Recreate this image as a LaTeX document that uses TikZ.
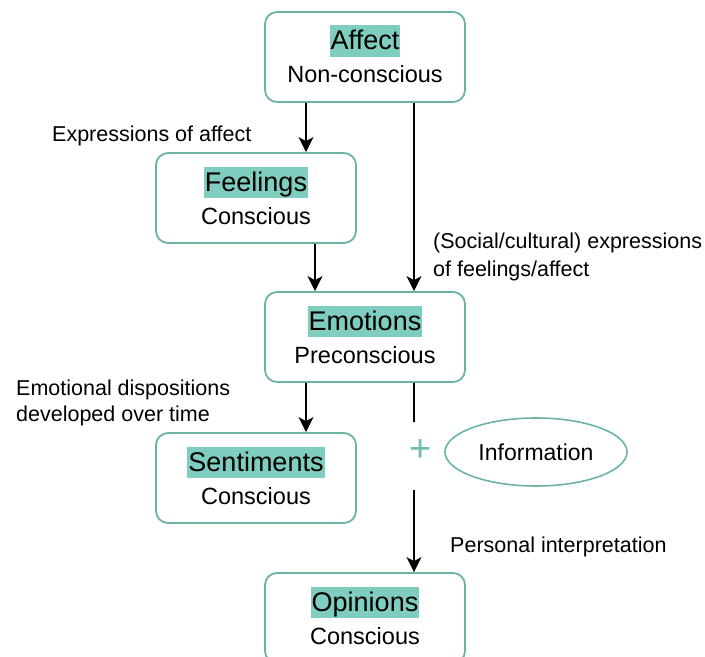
\documentclass[tikz,border=0pt]{standalone}
\usepackage{fontspec}
\setmainfont{Liberation Sans}
\usetikzlibrary{arrows.meta,shapes.geometric}

\definecolor{frame}{HTML}{6DB3A5}
\definecolor{mark}{HTML}{7ECDBE}
\definecolor{plus}{HTML}{6CBFAF}

\tikzset{
  stage/.style={draw=frame, line width=1.8bp, rounded corners=12bp, fill=white,
    minimum width=200bp, minimum height=90bp, inner sep=0pt},
  title/.style={fill=mark, anchor=base, inner xsep=1.2bp, inner ysep=0pt,
    text height=24.5bp, text depth=7bp,
    font=\fontsize{27bp}{31bp}\selectfont},
  sub/.style={anchor=base, inner sep=0pt, font=\fontsize{23.5bp}{27bp}\selectfont},
  note/.style={anchor=base west, inner sep=0pt, font=\fontsize{21.5bp}{25bp}\selectfont},
  arr/.style={line width=1.6bp, -{Stealth[length=15bp,width=15bp,inset=4bp]}},
  line/.style={line width=1.6bp},
}

\begin{document}
\begin{tikzpicture}[x=1bp,y=-1bp]
  \clip (0,0) rectangle (705,657);

  % stages
  \node[stage] (affect)     at (365,57)  {};
  \node[stage] (feelings)   at (256,198) {};
  \node[stage] (emotions)   at (365,337) {};
  \node[stage] (sentiments) at (256,478) {};
  \node[stage] (opinions)   at (365,618) {};

  % titles and levels of consciousness
  \node[title] (affectT)     at (365,50)  {Affect};
  \node[sub]   (affectS)     at (365,83)  {Non-conscious};
  \node[title] (feelingsT)   at (256,191) {Feelings};
  \node[sub]   (feelingsS)   at (256,224) {Conscious};
  \node[title] (emotionsT)   at (365,330) {Emotions};
  \node[sub]   (emotionsS)   at (365,363) {Preconscious};
  \node[title] (sentimentsT) at (256,471) {Sentiments};
  \node[sub]   (sentimentsS) at (256,504) {Conscious};
  \node[title] (opinionsT)   at (365,611) {Opinions};
  \node[sub]   (opinionsS)   at (365,644) {Conscious};

  % information joins the path to opinions
  \node[ellipse, draw=frame, line width=1.6bp, minimum width=182bp, minimum height=68bp,
        inner sep=0pt, font=\fontsize{23bp}{27bp}\selectfont] (info) at (536,452) {Information};
  \node[text=plus, inner sep=0pt, font=\fontsize{38bp}{40bp}\selectfont] (plusT) at (421,451) {+};

  % connectors
  \draw[arr] ([xshift=-59bp]affect.south) -- ([xshift=50bp]feelings.north);
  \draw[arr] ([xshift=59bp]feelings.south) -- ([xshift=-50bp]emotions.north);
  \draw[arr] ([xshift=49bp]affect.south) -- ([xshift=49bp]emotions.north);
  \draw[arr] ([xshift=-59bp]emotions.south) -- ([xshift=50bp]sentiments.north);
  \coordinate (gapTop) at (414,422);
  \coordinate (gapBot) at (414,490);
  \draw[line] ([xshift=49bp]emotions.south) -- (gapTop);
  \draw[arr] (gapBot) -- ([xshift=49bp]opinions.north);

  % annotations
  \node[note] (n1)  at (52,141.5) {Expressions of affect};
  \node[note] (n2a) at (433,248.5) {(Social/cultural) expressions};
  \node[note] (n2b) at (433,276)  {of feelings/affect};
  \node[note] (n3a) at (16,395)   {Emotional dispositions};
  \node[note] (n3b) at (16,421)   {developed over time};
  \node[note] (n4)  at (450,552.5) {Personal interpretation};
\end{tikzpicture}
\end{document}
